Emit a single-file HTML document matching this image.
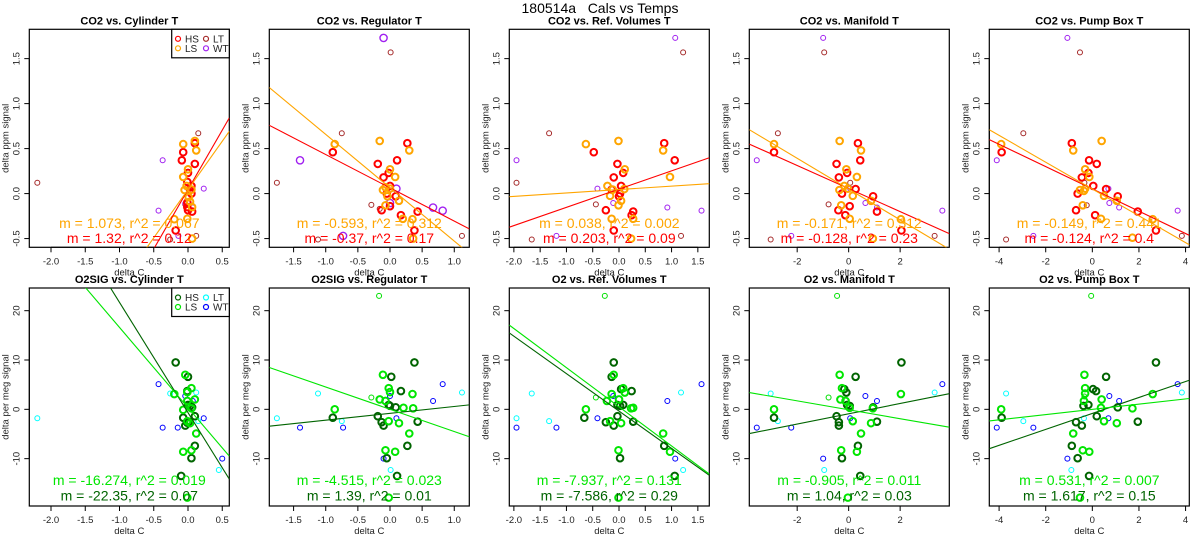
<!DOCTYPE html>
<html><head><meta charset="utf-8"><title>180514a Cals vs Temps</title>
<style>
html,body{margin:0;padding:0;background:#fff;}
svg{display:block;font-family:"Liberation Sans",Arial,sans-serif;}
</style></head>
<body>
<svg id="fig" width="1200" height="550" viewBox="0 0 1200 550" xmlns="http://www.w3.org/2000/svg">
<rect width="1200" height="550" fill="#fff"/>
<text x="600" y="13" text-anchor="middle" font-size="14" style="white-space:pre" xml:space="preserve">180514a   Cals vs Temps</text>
</svg>
<script>
// ---------- data ----------
const panelTitlesTop = ["CO2 vs. Cylinder T","CO2 vs. Regulator T","CO2 vs. Ref. Volumes T","CO2 vs. Manifold T","CO2 vs. Pump Box T"];
const panelTitlesBottom = ["O2SIG vs. Cylinder T","O2SIG vs. Regulator T","O2 vs. Ref. Volumes T","O2 vs. Manifold T","O2 vs. Pump Box T"];
const xTickValues = [[-2,-1.5,-1,-0.5,0,0.5],[-1.5,-1,-0.5,0,0.5,1],[-2,-1.5,-1,-0.5,0,0.5,1,1.5],[-2,0,2],[-4,-2,0,2,4]];
const xTickLabels = [["-2.0","-1.5","-1.0","-0.5","0.0","0.5"],["-1.5","-1.0","-0.5","0.0","0.5","1.0"],["-2.0","-1.5","-1.0","-0.5","0.0","0.5","1.0","1.5"],["-2","0","2"],["-4","-2","0","2","4"]];
const xMin = [-2.317,-1.878,-2.087,-3.86,-4.42];
const xMax = [0.603,1.234,1.718,3.91,4.16];
const yTicksTop = [-0.5,0,0.5,1,1.5];
const yTickLabelsTop = ["-0.5","0.0","0.5","1.0","1.5"];
const yTicksBottom = [-10,0,10,20];
const yTickLabelsBottom = ["-10","0","10","20"];
const yRangeTop = [-0.597,1.826];
const yRangeBottom = [-19.6,24.6];

// fit lines: slope, intercept
const slopeTopA = [1.073,-0.593,0.038,-0.171,-0.149];   // LS (orange)
const interTopA = [0.045,0.065,0.045,0.05,0.051];
const slopeTopB = [1.32,-0.37,0.203,-0.128,-0.124];     // HS (red)
const interTopB = [0.045,0.064,0.05,0.056,0.052];
const slopeBotA = [-16.274,-4.515,-7.937,-0.905,0.531]; // LS (green)
const interBotA = [0.33,0.01,0.51,-0.09,-0.01];
const slopeBotB = [-22.35,1.39,-7.586,1.04,1.617];      // HS (dark green)
const interBotB = [-0.67,-0.81,-0.35,-0.9,-0.83];
const fitTextTopA = ["m = 1.073, r^2 = 0.067","m = -0.593, r^2 = 0.312","m = 0.038, r^2 = 0.002","m = -0.171, r^2 = 0.312","m = -0.149, r^2 = 0.441"];
const fitTextTopB = ["m = 1.32, r^2 = 0.12","m = -0.37, r^2 = 0.17","m = 0.203, r^2 = 0.09","m = -0.128, r^2 = 0.23","m = -0.124, r^2 = 0.4"];
const fitTextBotA = ["m = -16.274, r^2 = 0.019","m = -4.515, r^2 = 0.023","m = -7.937, r^2 = 0.131","m = -0.905, r^2 = 0.011","m = 0.531, r^2 = 0.007"];
const fitTextBotB = ["m = -22.35, r^2 = 0.07","m = 1.39, r^2 = 0.01","m = -7.586, r^2 = 0.29","m = 1.04, r^2 = 0.03","m = 1.617, r^2 = 0.15"];

// top row points [x,y]
const top1_hs=[[-0.07,0.46],[0.1,0.56],[-0.09,0.37],[0.1,0.33],[0,0.23],[0.05,0.085],[0.05,0.0],[-0.01,-0.1],[0,-0.185],[0.06,-0.2],[-0.18,-0.41],[0.03,0.04],[-0.01,0.13],[-0.01,-0.15]];
const top1_ls=[[-0.07,0.55],[0.1,0.585],[0.12,0.48],[0,0.27],[-0.07,0.185],[-0.02,0.085],[-0.05,0.04],[0.05,0.045],[0.01,-0.04],[0.03,-0.09],[-0.01,-0.28],[-0.2,-0.285],[0.06,-0.5],[0.06,-0.15]];
const top1_lt=[[-2.2,0.12],[0.15,0.67],[-0.26,-0.51],[0.12,-0.47],[-0.04,-0.12]];
const top1_wt=[[-0.37,0.37],[-0.43,-0.19],[0.23,0.055],[-0.04,-0.11],[0.07,-0.155],[-0.14,-0.47]];
const top2_hs=[[-0.89,0.46],[0.27,0.56],[0.11,0.37],[-0.19,0.33],[-0.02,0.23],[-0.1,0.18],[0,0.085],[-0.05,0.0],[0.09,-0.03],[-0.13,-0.185],[0.17,-0.24],[0.43,-0.2],[0.38,-0.41],[0,-0.14]];
const top2_ls=[[-0.86,0.55],[-0.16,0.585],[0.3,0.48],[0,0.27],[0.08,0.185],[-0.11,0.04],[0,0.055],[-0.04,-0.03],[0.14,-0.08],[-0.07,-0.13],[0.2,-0.28],[0.35,-0.285],[0.36,-0.5],[-0.07,0.07]];
const top2_lt=[[-1.76,0.12],[-0.75,0.67],[0.01,1.57],[-1.12,-0.51],[-0.29,-0.125],[1.12,-0.47],[-0.16,-0.17]];
const top2_wt=[[-0.1,1.73],[-1.4,0.37],[0.1,0.055],[0,-0.105],[0.67,-0.155],[0.82,-0.19],[-0.73,-0.47]];
const top3_hs=[[-0.48,0.46],[0.86,0.56],[1.06,0.37],[-0.03,0.33],[0.08,0.23],[-0.1,0.18],[0.04,0.085],[-0.14,0.045],[0.02,0.0],[0,-0.03],[-0.25,-0.185],[0.24,-0.24],[0.27,-0.2],[-0.1,-0.41]];
const top3_ls=[[-0.63,0.55],[-0.01,0.585],[0.84,0.48],[0.11,0.27],[0.97,0.185],[-0.22,0.085],[-0.12,0.045],[0.1,0.05],[-0.17,-0.025],[0.04,-0.08],[-0.01,-0.13],[-0.14,-0.28],[0.27,-0.28],[0.23,-0.5]];
const top3_lt=[[-1.95,0.12],[-1.33,0.67],[1.22,1.57],[-1.66,-0.51],[-0.44,-0.12],[1.18,-0.47]];
const top3_wt=[[1.07,1.73],[-1.95,0.37],[-0.41,0.055],[-0.11,-0.105],[0.92,-0.155],[1.57,-0.19],[-1.19,-0.47]];
const top4_hs=[[-2.9,0.46],[0.36,0.56],[0.45,0.37],[-0.47,0.33],[-0.06,0.23],[-0.38,0.18],[0.27,0.05],[-0.26,0.0],[0.95,-0.03],[-0.4,-0.185],[-0.13,-0.24],[1.1,-0.2],[2.05,-0.41],[0.04,-0.14]];
const top4_ls=[[-2.9,0.55],[-0.35,0.585],[0.48,0.48],[-0.09,0.27],[0.32,0.185],[-0.17,0.085],[-0.36,0.04],[-0.03,0.055],[0.16,-0.025],[0.87,-0.08],[-0.29,-0.13],[0.04,-0.28],[2.03,-0.285],[0.94,-0.5]];
const top4_lt=[[-2.75,0.67],[-0.95,1.57],[-3.03,-0.51],[0.06,0.12],[-0.78,-0.12],[3.34,-0.47]];
const top4_wt=[[-0.99,1.73],[-3.57,0.37],[0.06,0.055],[0.65,-0.105],[1.1,-0.155],[3.64,-0.19],[-2.23,-0.47]];
const top5_hs=[[-3.89,0.46],[-0.88,0.56],[-0.14,0.37],[0.19,0.33],[-0.17,0.23],[-0.45,0.18],[0.04,0.085],[0.59,0.05],[-0.63,0.0],[1.09,-0.03],[-0.7,-0.185],[0.12,-0.24],[1.95,-0.2],[2.73,-0.41]];
const top5_ls=[[-3.91,0.55],[-0.82,0.48],[0.4,0.585],[-0.31,0.27],[-0.13,0.185],[-0.53,0.04],[-0.31,0.055],[-0.36,0.03],[0.5,-0.025],[1.05,-0.08],[-0.41,-0.13],[0.37,-0.28],[2.59,-0.285],[1.72,-0.49]];
const top5_lt=[[-2.96,0.67],[-0.53,1.57],[-3.7,-0.51],[-0.34,0.12],[-0.24,-0.13],[3.84,-0.47]];
const top5_wt=[[-1.07,1.73],[-4.1,0.37],[0.69,0.055],[0.73,-0.105],[1.15,-0.155],[3.66,-0.19],[-2.53,-0.47]];

// bottom row points [x,y]
const bot1_hs=[[-0.18,9.5],[0,6.6],[-0.01,3.7],[0,0.9],[0.03,0.7],[0.06,0.4],[-0.07,-1.7],[0.1,-1.4],[-0.04,-3.3],[0.01,-2.5],[0.1,-7.4],[0.05,-9.9],[-0.1,-13.5],[-0.01,-2.7]];
const bot1_ls=[[-0.04,7.0],[0.05,4.3],[-0.01,3.5],[-0.2,3.1],[-0.01,1.7],[0.1,2.0],[-0.07,-0.1],[0.05,0.2],[-0.01,-2.4],[0.03,-2.8],[0.12,-4.9],[-0.07,-8.6],[0.05,-8.3],[-0.01,-17.9]];
const bot1_lt=[[-2.2,-1.8],[-0.26,3.2],[0.12,3.4],[0.15,-2.4],[0.45,-12.3]];
const bot1_wt=[[-0.43,5.1],[-0.37,-3.7],[-0.15,-3.7],[-0.04,2.7],[0.07,1.7],[0.23,-1.8],[0.5,-10]];
const bot1_thin=[];
const bot2_hs=[[0.38,9.5],[0.02,6.6],[0.17,3.7],[-0.02,0.9],[0,0.7],[0.09,0.4],[-0.19,-1.4],[-0.13,-2.6],[-0.1,-3.3],[0.43,-2.5],[0.27,-7.4],[-0.05,-9.9],[0.11,-13.5],[-0.89,-1.7]];
const bot2_ls=[[-0.11,7.0],[-0.02,4.3],[0,3.5],[-0.16,2.0],[-0.07,1.7],[0.21,0.3],[-0.86,0],[0.35,3.1],[0.36,0.2],[-0.02,-2.4],[0.14,-2.8],[0.3,-4.9],[-0.07,-8.3],[0.08,-8.6],[-0.02,-17.9]];
const bot2_lt=[[-1.76,-1.8],[-1.12,3.2],[-0.75,-2.4],[0.01,-12.3],[1.12,3.4]];
const bot2_wt=[[-1.4,-3.7],[-0.73,-3.7],[-0.1,-10],[0,2.7],[0.1,-1.8],[0.67,1.7],[0.82,5.1]];
const bot2_thin=[[-0.17,23],[-0.29,2.4]];
const bot3_hs=[[-0.1,9.5],[-0.14,6.6],[0.04,4.1],[0.24,3.7],[-0.03,0.9],[0.02,0.7],[0.08,0.9],[-0.03,-1.4],[-0.25,-2.6],[-0.1,-3.3],[0.27,-2.5],[0.86,-7.4],[0.02,-9.9],[1.06,-13.5],[-0.66,-1.7]];
const bot3_ls=[[-0.1,7.0],[0.08,4.3],[0.11,3.4],[-0.14,3.1],[-0.23,1.7],[0,2.0],[0.23,0.2],[0.27,0.3],[-0.63,0],[-0.17,-2.4],[0.04,-2.8],[0.84,-4.9],[-0.01,-8.3],[0.97,-8.6],[-0.01,-17.9]];
const bot3_lt=[[-1.95,-1.8],[-1.66,3.2],[-1.33,-2.4],[1.22,-12.3],[1.18,3.4]];
const bot3_wt=[[-1.95,-3.7],[-1.19,-3.7],[-0.41,-1.8],[-0.11,2.7],[0.92,1.7],[1.07,-10],[1.57,5.1]];
const bot3_thin=[[-0.27,23],[-0.44,2.4]];
const bot4_hs=[[2.05,9.5],[0.27,6.6],[-0.17,4.1],[-0.09,3.4],[0.04,0.7],[-0.06,0.9],[0.95,0.4],[-0.47,-1.4],[-0.38,-2.6],[-0.38,-3.3],[1.1,-2.5],[0.36,-7.4],[-0.26,-9.9],[0.45,-13.5],[-2.9,-1.7]];
const bot4_ls=[[-0.35,7.0],[-0.26,4.3],[-0.32,2.0],[-0.12,1.7],[0.04,0.3],[-2.9,0],[2.03,3.1],[0.94,0.2],[0.16,-2.4],[0.87,-2.8],[0.48,-4.9],[-0.29,-8.3],[0.32,-8.6],[-0.03,-17.9]];
const bot4_lt=[[-3.03,3.2],[-2.75,-2.4],[-0.95,-12.3],[3.34,3.4]];
const bot4_wt=[[-3.57,-3.7],[-2.23,-3.7],[-0.99,-10],[0.06,-1.8],[0.65,2.7],[1.1,1.7],[3.64,5.1]];
const bot4_thin=[[-0.45,23],[-0.78,2.4]];
const bot5_hs=[[2.73,9.5],[0.59,6.6],[0.03,4.1],[0.16,3.7],[-0.17,0.9],[-0.38,0.7],[1.09,0.4],[0.19,-1.4],[-0.7,-2.6],[-0.45,-3.3],[1.95,-2.5],[-0.88,-7.4],[-0.63,-9.9],[-0.14,-13.5],[-3.89,-1.7]];
const bot5_ls=[[-0.34,7.0],[-0.31,4.3],[-0.31,3.2],[-0.36,1.7],[0.4,2.0],[0.37,0.3],[-3.91,0.0],[2.59,3.1],[1.72,0.2],[0.5,-2.4],[1.05,-2.8],[-0.82,-4.9],[-0.41,-8.3],[-0.13,-8.6],[-0.53,-17.9]];
const bot5_lt=[[-3.7,3.2],[-2.96,-2.4],[-0.36,-1.8],[-0.9,-12.3],[3.84,3.4]];
const bot5_wt=[[-4.1,-3.7],[-2.53,-3.7],[-1.07,-10],[0.69,-1.8],[0.73,2.7],[1.15,1.7],[3.66,5.1]];
const bot5_thin=[[-0.05,23],[-0.34,2.6]];

const topHS=[top1_hs,top2_hs,top3_hs,top4_hs,top5_hs];
const topLS=[top1_ls,top2_ls,top3_ls,top4_ls,top5_ls];
const topLT=[top1_lt,top2_lt,top3_lt,top4_lt,top5_lt];
const topWT=[top1_wt,top2_wt,top3_wt,top4_wt,top5_wt];
const botHS=[bot1_hs,bot2_hs,bot3_hs,bot4_hs,bot5_hs];
const botLS=[bot1_ls,bot2_ls,bot3_ls,bot4_ls,bot5_ls];
const botLT=[bot1_lt,bot2_lt,bot3_lt,bot4_lt,bot5_lt];
const botWT=[bot1_wt,bot2_wt,bot3_wt,bot4_wt,bot5_wt];
const botThin=[bot1_thin,bot2_thin,bot3_thin,bot4_thin,bot5_thin];

// ---------- drawing ----------
const NS="http://www.w3.org/2000/svg";
const svg=document.getElementById("fig");
function mk(tag,attrs,parent){const e=document.createElementNS(NS,tag);for(const k in attrs)e.setAttribute(k,attrs[k]);(parent||svg).appendChild(e);return e;}

function drawPanel(col,row){
  const L=col*240+29.3,R=L+200,T=row?288:29.3,B=row?506:247.3;
  const x0=xMin[col],x1=xMax[col];
  const yr=row?yRangeBottom:yRangeTop;
  const sx=v=>L+(v-x0)/(x1-x0)*(R-L);
  const sy=v=>B-(v-yr[0])/(yr[1]-yr[0])*(B-T);
  const g=mk("g",{});
  
  
  const cid="clip"+row+col;
  const cp=mk("clipPath",{id:cid},g);mk("rect",{x:L,y:T,width:R-L,height:B-T},cp);
  const t=mk("text",{x:(L+R)/2,y:T-5,"text-anchor":"middle","font-size":"11","font-weight":"bold"},g);
  t.textContent=row?panelTitlesBottom[col]:panelTitlesTop[col];
  
  
  const xa=mk("g",{},g);
  
  
  const xt=xTickValues[col];
  mk("line",{x1:sx(xt[0]),x2:sx(xt[xt.length-1]),y1:B,y2:B,stroke:"#000","stroke-width":1},xa);
  xt.forEach((v,i)=>{
    mk("line",{x1:sx(v),x2:sx(v),y1:B,y2:B+5,stroke:"#000","stroke-width":1},xa);
    const lb=mk("text",{x:sx(v),y:B+17,"text-anchor":"middle","font-size":"9.5",fill:"#222"},xa);
    lb.textContent=xTickLabels[col][i];
    
    
  });
  const xl=mk("text",{x:(L+R)/2,y:B+28,"text-anchor":"middle","font-size":"9.5",fill:"#222"},g);
  xl.textContent="delta C";
  
  
  const ya=mk("g",{},g);
  
  
  const yt=row?yTicksBottom:yTicksTop, ytl=row?yTickLabelsBottom:yTickLabelsTop;
  mk("line",{x1:L,x2:L,y1:sy(yt[0]),y2:sy(yt[yt.length-1]),stroke:"#000"},ya);
  yt.forEach((v,i)=>{
    mk("line",{x1:L-5,x2:L,y1:sy(v),y2:sy(v),stroke:"#000"},ya);
    const lb=mk("text",{x:0,y:0,"text-anchor":"middle","font-size":"9.5",fill:"#222",transform:`translate(${L-10},${sy(v)}) rotate(-90)`},ya);
    lb.textContent=ytl[i];
    
    
  });
  const yl=mk("text",{x:0,y:0,"text-anchor":"middle","font-size":"9.5",fill:"#222",transform:`translate(${L-21},${(T+B)/2}) rotate(-90)`},g);
  yl.textContent=row?"delta per meg signal":"delta ppm signal";
  
  
  const bx=mk("rect",{x:L,y:T,width:R-L,height:B-T,fill:"none",stroke:"#000","stroke-width":1.2},g);
  
  
  const plot=mk("g",{"clip-path":`url(#${cid})`},g);
  const groups=row?[
    [botLT[col],"#00ffff",2.5,1,"lt"],[botWT[col],"#0000ff",2.5,1,"wt"],[botThin[col],"#00e000",2.5,1,"thin"],
    [botHS[col],"#006400",3.3,2,"hs"],[botLS[col],"#00e600",3.3,2,"ls"]]:[
    [topLT[col],"#a52a2a",2.5,1,"lt"],[topWT[col],"#a020f0",col===1?3.6:2.5,col===1?1.4:1,"wt"],
    [topHS[col],"#ff0000",3.3,2,"hs"],[topLS[col],"#ffa500",3.3,2,"ls"]];
  groups.forEach(([pts,c,r,w,nm])=>{
    pts.forEach(p=>{
      const ci=mk("circle",{cx:sx(p[0]),cy:sy(p[1]),r:r,fill:"none",stroke:c,"stroke-width":w},plot);
      
      
    });
  });
  const fits=row?[[slopeBotB[col],interBotB[col],"#006400"],[slopeBotA[col],interBotA[col],"#00e600"]]
                :[[slopeTopB[col],interTopB[col],"#ff0000"],[slopeTopA[col],interTopA[col],"#ffa500"]];
  fits.forEach(([m,b,c],k)=>{
    const ln=mk("line",{x1:sx(x0),y1:sy(m*x0+b),x2:sx(x1),y2:sy(m*x1+b),stroke:c,"stroke-width":1.1},plot);
    
    
  });
  const ta=mk("text",{x:(L+R)/2,y:row?485:228,"text-anchor":"middle","font-size":"14",fill:row?"#00e600":"#ffa500"},g);
  ta.textContent=row?fitTextBotA[col]:fitTextTopA[col];
  
  
  const tb=mk("text",{x:(L+R)/2,y:row?500.5:243,"text-anchor":"middle","font-size":"14",fill:row?"#006400":"#ff0000"},g);
  tb.textContent=row?fitTextBotB[col]:fitTextTopB[col];
  
  
  if(col===0){
    const lg=mk("g",{},g);
    
    
    mk("rect",{x:171.7,y:T,width:R-171.7,height:28.5,fill:"#fff",stroke:"#000","stroke-width":1.2},lg);
    const items=row?[["HS","#006400",178,T+9.5],["LS","#00e600",178,T+19],["LT","#00ffff",206,T+9.5],["WT","#0000ff",206,T+19]]
                   :[["HS","#ff0000",178,T+9.5],["LS","#ffa500",178,T+19],["LT","#a52a2a",206,T+9.5],["WT","#a020f0",206,T+19]];
    items.forEach(([n,c,x,y])=>{
      const en=mk("g",{},lg);
      
      
      mk("circle",{cx:x,cy:y,r:2.5,fill:"none",stroke:c,"stroke-width":1.2},en);
      const tx=mk("text",{x:x+7,y:y+3.5,"font-size":"10",fill:"#222"},en);
      tx.textContent=n;
    });
  }
}
for(let r=0;r<2;r++)for(let c=0;c<5;c++)drawPanel(c,r);
</script>
</body></html>
